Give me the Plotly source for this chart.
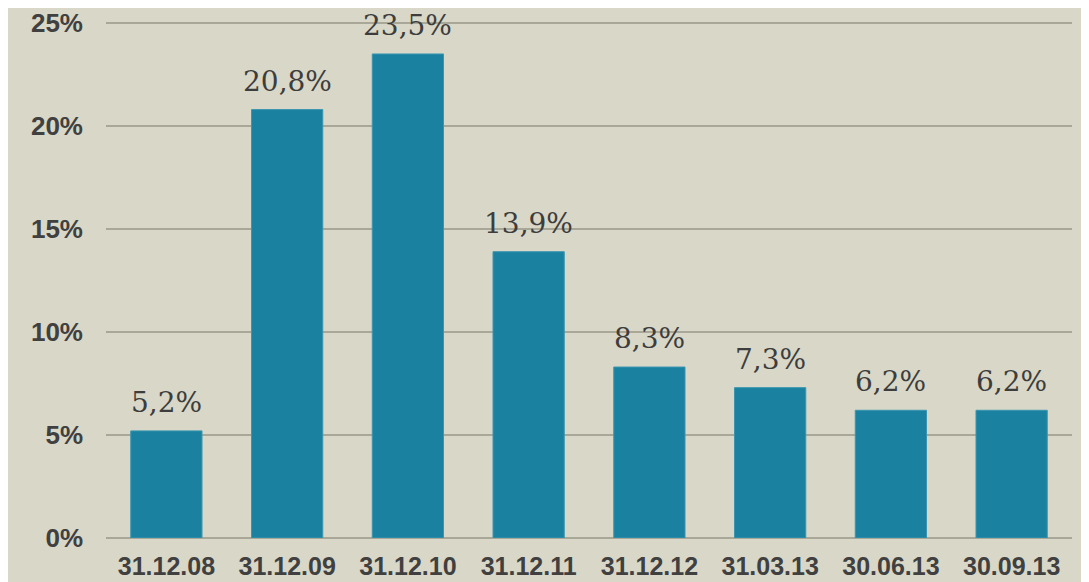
import plotly.graph_objects as go

dates = ['31.12.08', '31.12.09', '31.12.10', '31.12.11', '31.12.12', '31.03.13', '30.06.13', '30.09.13']
values = [5.2, 20.8, 23.5, 13.9, 8.3, 7.3, 6.2, 6.2]
y_ticks = [0, 5, 10, 15, 20, 25]
y_tick_labels = ['0%', '5%', '10%', '15%', '20%', '25%']

labels = [f"{v:.1f}%".replace('.', ',') for v in values]

fig = go.Figure()
fig.add_trace(
    go.Bar(x=dates, y=values, cliponaxis=False,
           marker=dict(color='#1a82a0', line=dict(color='#3a96b0', width=1)),
           width=0.59)
)
# value labels sit a bit above the bars
for d, v, lab in zip(dates, values, labels):
    fig.add_annotation(x=d, y=v, text=lab, showarrow=False, yanchor='bottom', yshift=10,
                       font=dict(family='DejaVu Serif', size=28, color='#3d3d3d'))

# the page has an 8px body margin, so margins are shifted to compensate
fig.update_layout({'plot_bgcolor': '#d9d7c7', 'paper_bgcolor': '#d9d7c7'},
                  width=1089, height=582, showlegend=False, bargap=0.41,
                  margin=dict(l=98, r=25, t=13, b=52, autoexpand=False))
fig.update_xaxes(showline=False, ticks='', showgrid=False, ticklabelstandoff=11,
                 tickfont=dict(family='Liberation Sans', size=25, color='#404040', weight='bold'))
fig.update_yaxes(range=[0, 25.1], tickvals=y_ticks, ticktext=y_tick_labels, showgrid=True,
                 gridcolor='#a9a898', gridwidth=2, zeroline=True, zerolinecolor='#a9a898', zerolinewidth=2,
                 ticks='', ticklabelstandoff=22,
                 tickfont=dict(family='Liberation Sans', size=26, color='#404040', weight='bold'))
fig.write_html("out.html")
